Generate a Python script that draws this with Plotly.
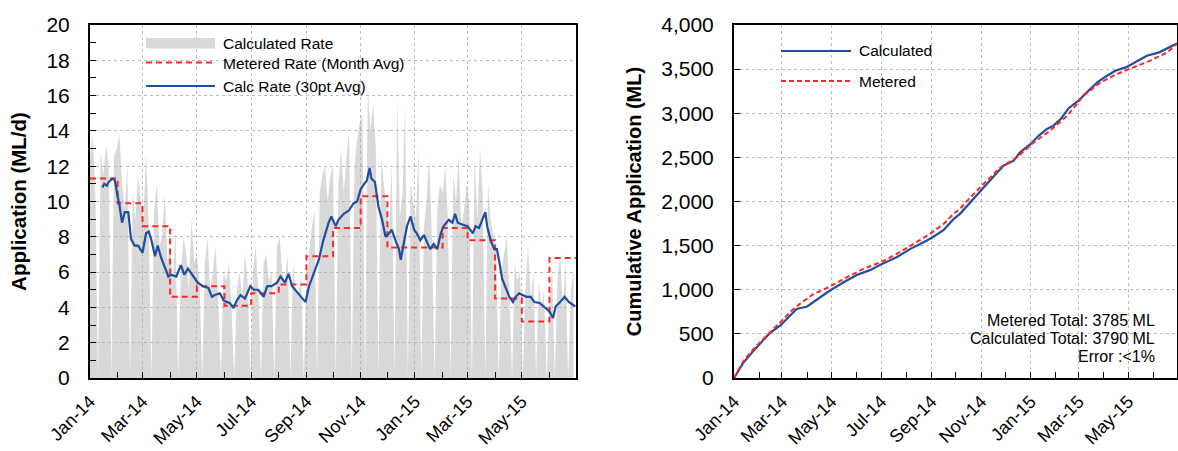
import pandas as pd
import plotly.graph_objects as go

# ---------------- data ----------------
START = "2014-01-01"

# daily calculated rate (sampled every 3 days), ML/d
calc_rate = [
    12.5, 13.8, 10.5, 0, 12.8, 11.5, 13.2, 12.0, 0, 12.6, 13.0,          # Jan-14
    13.8, 11.0, 9.5, 12.0, 0, 10.5, 9.0, 11.5, 10.0,                      # Feb
    9.0, 12.8, 8.5, 0, 9.5, 11.0, 7.5, 8.0, 10.5, 6.5,                    # Mar
    7.5, 5.5, 8.5, 0, 6.0, 8.0, 7.0, 5.0, 9.0, 6.5,                       # Apr
    7.0, 5.5, 0, 6.5, 8.0, 5.0, 6.0, 7.5, 4.5, 0, 6.0,                    # May
    5.5, 6.5, 4.0, 0, 5.0, 6.0, 4.5, 7.0, 5.5, 0,                         # Jun
    6.0, 7.5, 5.0, 0, 6.5, 7.0, 5.5, 6.0, 0, 7.5,                         # Jul
    8.0, 6.0, 5.5, 7.0, 0, 6.5, 5.0, 4.5, 6.0, 0,                         # Aug
    5.5, 7.0, 8.5, 9.5, 0, 10.5, 11.5, 12.0, 10.0, 11.5,                  # Sep
    12.0, 0, 11.0, 13.0, 10.5, 12.5, 14.0, 0, 12.0, 13.5,                 # Oct
    14.5, 15.0, 0, 16.5, 14.0, 15.5, 13.0, 0, 12.5, 11.0,                 # Nov
    9.5, 8.5, 12.0, 0, 16.0, 9.0, 10.5, 15.5, 0, 11.0, 10.0,              # Dec
    9.0, 13.0, 0, 8.5, 10.0, 12.5, 8.0, 0, 9.5, 11.0,                     # Jan-15
    10.5, 12.0, 9.0, 0, 11.5, 10.0, 12.5, 8.5, 9.5,                       # Feb
    11.0, 10.0, 0, 12.5, 9.0, 13.0, 10.5, 0, 11.0, 9.0,                   # Mar
    8.0, 7.5, 0, 6.0, 7.0, 8.0, 5.0, 0, 6.5, 5.5,                         # Apr
    6.0, 0, 5.0, 7.5, 4.5, 6.0, 0, 5.5, 4.0, 5.0, 0,                      # May
    4.5, 6.0, 0, 5.5, 7.0, 4.0, 6.5, 0, 5.0, 6.0,                         # Jun
]

# metered rate, monthly average (Jan-14 .. Jun-15), ML/d
metered_month = [11.3, 9.9, 8.6, 4.6, 5.2, 4.1, 4.8, 5.3, 6.9, 8.5,
                 10.3, 7.4, 7.4, 8.5, 7.8, 4.5, 3.2, 6.8]

# 30-point average of calculated rate: day offsets from 1-Jan-14 and values
avg_days = [14, 16, 19, 21, 25, 28, 31, 33, 36, 39, 43, 46, 50, 54, 59, 63, 66, 69,
            73, 76, 80, 84, 88, 91, 97, 102, 106, 110, 116, 121, 127, 133, 137, 140,
            146, 150, 154, 157, 161, 165, 169, 174, 180, 184, 189, 195, 199, 204,
            210, 214, 219, 223, 227, 232, 238, 242, 246, 251, 257, 262, 268, 271,
            276, 279, 285, 291, 296, 300, 304, 308, 311, 314, 316, 320, 324, 328,
            332, 336, 339, 343, 347, 349, 352, 356, 360, 364, 367, 371, 375, 379,
            382, 386, 390, 394, 397, 403, 407, 410, 413, 418, 424, 430, 433, 437,
            441, 444, 446, 450, 454, 457, 460, 463, 467, 471, 475, 478, 482, 486,
            490, 495, 499, 505, 510, 516, 520, 523, 528, 533, 538, 543, 545]
avg_vals = [10.8, 11.0, 10.9, 11.1, 11.3, 11.2, 10.3, 9.8, 8.8, 9.4, 9.4, 7.9, 7.5, 7.5,
            7.1, 8.2, 8.3, 7.8, 6.9, 7.5, 6.8, 6.3, 5.75, 5.85, 5.75, 6.4, 5.85, 6.2,
            5.75, 5.4, 5.2, 5.1, 4.6, 4.7, 4.8, 4.4, 4.3, 4.25, 3.96, 4.4, 4.7, 4.5,
            5.2, 5.0, 5.0, 4.6, 5.2, 5.2, 5.4, 5.75, 5.4, 5.9, 5.2, 4.9, 4.6, 4.3,
            5.2, 5.9, 6.7, 7.8, 8.8, 9.15, 8.6, 8.96, 9.3, 9.5, 9.9, 10.0, 10.7,
            11.0, 11.2, 11.9, 11.3, 11.1, 9.7, 8.96, 8.0, 8.2, 8.4, 7.8, 7.3, 6.7,
            7.6, 8.6, 9.15, 8.4, 8.2, 7.8, 8.1, 7.6, 7.3, 7.6, 7.3, 8.2, 8.6, 8.96,
            8.8, 9.3, 8.8, 8.7, 8.6, 8.2, 8.6, 8.5, 8.96, 9.4, 8.6, 7.8, 7.3, 7.3,
            6.5, 5.6, 5.1, 4.6, 4.3, 4.6, 4.8, 4.7, 4.6, 4.6, 4.3, 4.25, 4.05, 3.77,
            3.4, 4.05, 4.3, 4.6, 4.3, 4.15, 4.05]

# cumulative application (ML)
cum_calc_days = [0, 12, 26, 44, 57, 69, 77, 90, 102, 118, 135, 151, 168, 182, 200, 217,
                 229, 243, 258, 270, 278, 287, 299, 311, 324, 332, 344, 352, 365, 375,
                 385, 393, 402, 412, 424, 434, 447, 457, 469, 482, 494, 508, 523, 535, 545]
cum_calc = [0, 179, 330, 508, 595, 708, 783, 810, 885, 991, 1085, 1168, 1225, 1293, 1368,
            1463, 1519, 1587, 1678, 1800, 1860, 1954, 2067, 2199, 2331, 2407, 2463, 2558,
            2652, 2747, 2822, 2860, 2935, 3060, 3143, 3237, 3350, 3414, 3482, 3520, 3577,
            3652, 3690, 3747, 3790]
cum_met_days = [0, 12, 26, 44, 57, 71, 81, 98, 118, 139, 159, 182, 200, 221, 241, 258,
                270, 278, 287, 307, 328, 348, 369, 389, 410, 430, 451, 471, 492, 512,
                533, 545]
cum_met = [0, 198, 349, 508, 632, 764, 840, 953, 1036, 1142, 1236, 1319, 1406, 1519,
           1633, 1746, 1859, 1916, 2010, 2199, 2388, 2501, 2671, 2803, 2973, 3199, 3350,
           3444, 3520, 3596, 3690, 3785]

# ---------------- build ----------------
t0 = pd.Timestamp(START)


def to_dates(days):
    return [t0 + pd.Timedelta(days=d) for d in days]


gray_x = pd.date_range(START, periods=len(calc_rate), freq="3D")
met_x = list(pd.date_range(START, periods=len(metered_month) + 1, freq="MS"))
met_y = metered_month + [metered_month[-1]]

BLUE = "#1F4E9E"
RED = "#FF2626"
GRAY = "#D9D9D9"
FONT = "Liberation Sans, Arial, sans-serif"

fig = go.Figure()
fig.add_trace(go.Scatter(x=gray_x, y=calc_rate, mode="lines", line=dict(width=0),
                         fill="tozeroy", fillcolor="rgba(170,170,170,0.45)",
                         xaxis="x", yaxis="y", showlegend=False, hoverinfo="skip",
                         name="Calculated Rate"))
fig.add_trace(go.Scatter(x=met_x, y=met_y, mode="lines", line_shape="hv",
                         line=dict(color=RED, width=2, dash="6px,4px"),
                         xaxis="x", yaxis="y", showlegend=False,
                         name="Metered Rate (Month Avg)"))
fig.add_trace(go.Scatter(x=to_dates(avg_days), y=avg_vals, mode="lines",
                         line=dict(color=BLUE, width=2.2),
                         xaxis="x", yaxis="y", showlegend=False,
                         name="Calc Rate (30pt Avg)"))
fig.add_trace(go.Scatter(x=to_dates(cum_calc_days), y=cum_calc, mode="lines",
                         line=dict(color=BLUE, width=2.2),
                         xaxis="x2", yaxis="y2", showlegend=False, name="Calculated"))
fig.add_trace(go.Scatter(x=to_dates(cum_met_days), y=cum_met, mode="lines",
                         line=dict(color=RED, width=2, dash="5px,3px"),
                         xaxis="x2", yaxis="y2", showlegend=False, name="Metered"))

W, H = 1178, 451
ML, MR, MT, MB = 90, 1, 25, 73
PW = W - ML - MR
PH = H - MT - MB


def px_x(px):
    return (px - ML) / PW


def px_y(py):
    return (H - MB - py) / PH


grid = dict(showgrid=True, gridcolor="#BDBDBD", griddash="dot", gridwidth=1)
common_x = dict(type="date", dtick="M2", tick0=START, tickformat="%b-%y", tickangle=-45,
                ticks="inside", ticklen=6, tickcolor="black", tickwidth=1,
                showline=True, mirror=True, linecolor="black", linewidth=2,
                minor=dict(dtick="M1", ticks="inside", ticklen=6, tickcolor="black",
                           showgrid=False),
                tickfont=dict(size=18, color="black"), ticklabelstandoff=4,
                zeroline=False, automargin=False, **grid)
common_y = dict(ticks="inside", ticklen=6, tickcolor="black", tickwidth=1,
                showline=True, mirror=True, linecolor="black", linewidth=2,
                tickfont=dict(size=21, color="black"), zeroline=False,
                automargin=False, ticklabelstandoff=14, **grid)

fig.update_layout(
    width=W, height=H,
    margin=dict(l=ML, r=MR, t=MT, b=MB),
    paper_bgcolor="white", plot_bgcolor="white",
    font=dict(family=FONT, color="black"),
    xaxis=dict(domain=[0, px_x(576)], range=[START, "2015-06-30 20:00"], anchor="y",
               **common_x),
    yaxis=dict(domain=[0, 1], range=[0, 20], dtick=2, anchor="x",
               minor=dict(dtick=1, ticks="inside", ticklen=6, tickcolor="black",
                          showgrid=False),
               title=dict(text="<b>Application (ML/d)</b>", font=dict(size=20.5),
                          standoff=14),
               **common_y),
    xaxis2=dict(domain=[px_x(734), 1], range=[START, "2015-06-30"], anchor="y2",
                **common_x),
    yaxis2=dict(domain=[0, 1], range=[0, 4000], dtick=500, tickformat=",", anchor="x2",
                title=dict(text="<b>Cumulative Application (ML)</b>",
                           font=dict(size=20), standoff=14),
                **common_y),
    showlegend=False,
)

shapes = []
annots = []
# left legend
shapes.append(dict(type="rect", xref="paper", yref="paper",
                   x0=px_x(146), x1=px_x(215), y0=px_y(48.5), y1=px_y(38),
                   fillcolor=GRAY, line=dict(width=0)))
shapes.append(dict(type="line", xref="paper", yref="paper",
                   x0=px_x(146), x1=px_x(215), y0=px_y(62.5), y1=px_y(62.5),
                   line=dict(color=RED, width=2, dash="6px,4px")))
shapes.append(dict(type="line", xref="paper", yref="paper",
                   x0=px_x(146), x1=px_x(215), y0=px_y(86), y1=px_y(86),
                   line=dict(color=BLUE, width=2.2)))
for txt, yy in [("Calculated Rate", 43), ("Metered Rate (Month Avg)", 63),
                ("Calc Rate (30pt Avg)", 86)]:
    annots.append(dict(text=txt, xref="paper", yref="paper", x=px_x(221), y=px_y(yy),
                       xanchor="left", yanchor="middle", showarrow=False,
                       font=dict(size=15.5, color="black")))
# right legend
shapes.append(dict(type="line", xref="paper", yref="paper",
                   x0=px_x(781), x1=px_x(851), y0=px_y(51), y1=px_y(51),
                   line=dict(color=BLUE, width=2.2)))
shapes.append(dict(type="line", xref="paper", yref="paper",
                   x0=px_x(781), x1=px_x(851), y0=px_y(81), y1=px_y(81),
                   line=dict(color=RED, width=2, dash="5px,3px")))
for txt, yy in [("Calculated", 51), ("Metered", 81)]:
    annots.append(dict(text=txt, xref="paper", yref="paper", x=px_x(857), y=px_y(yy),
                       xanchor="left", yanchor="middle", showarrow=False,
                       font=dict(size=15.5, color="black")))
# totals
err = abs(cum_calc[-1] - cum_met[-1]) / cum_met[-1] * 100
totals = [f"Metered Total: {cum_met[-1]} ML",
          f"Calculated Total: {cum_calc[-1]} ML",
          "Error :<1%" if err < 1 else f"Error : {err:.0f}%"]
for txt, yy in zip(totals, [320, 338.5, 356.5]):
    annots.append(dict(text=txt, xref="paper", yref="paper", x=px_x(1157), y=px_y(yy),
                       xanchor="right", yanchor="middle", showarrow=False,
                       font=dict(size=16, color="black")))

fig.update_layout(shapes=shapes, annotations=annots)
fig.write_html(
    "out.html",
    config={"displayModeBar": False},
    post_script="document.documentElement.style.margin='0';"
                "document.body.style.margin='0';"
                "document.body.style.overflow='hidden';",
)
